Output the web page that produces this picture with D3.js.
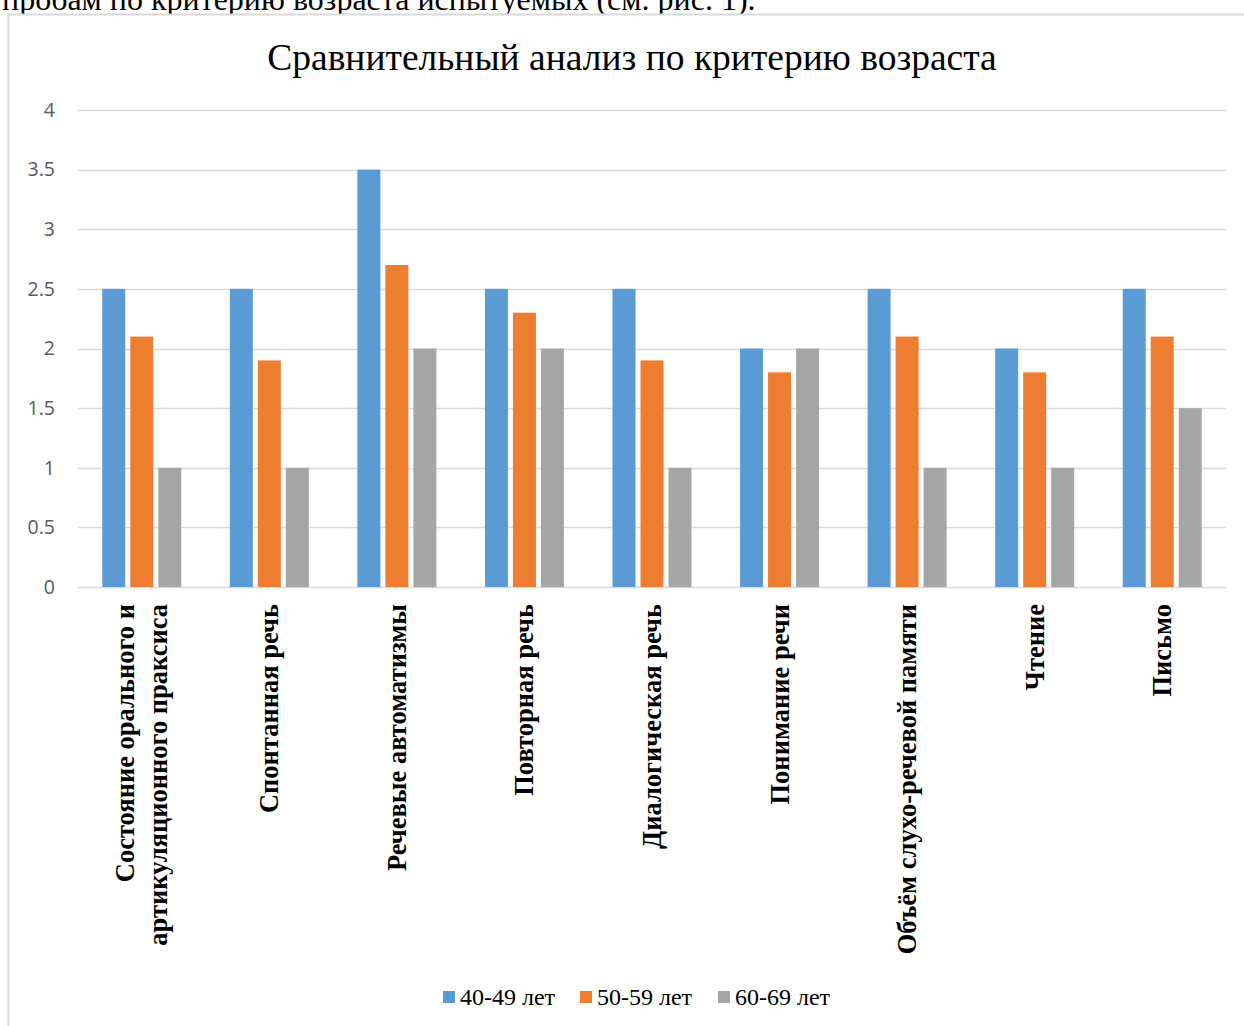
<!DOCTYPE html>
<html>
<head>
<meta charset="utf-8">
<script src="https://d3js.org/d3.v7.min.js"></script>
<style>
  html, body { margin: 0; padding: 0; background: #fff; overflow: hidden; }
</style>
</head>
<body>
<div id="chart"></div>
<script>
// Сравнительный анализ по критерию возраста
const categories = [
    ['Состояние орального и', 'артикуляционного праксиса'],
    ['Спонтанная речь'],
    ['Речевые автоматизмы'],
    ['Повторная речь'],
    ['Диалогическая речь'],
    ['Понимание речи'],
    ['Объём слухо-речевой памяти'],
    ['Чтение'],
    ['Письмо']
];
const seriesNames = ['40-49 лет', '50-59 лет', '60-69 лет'];
const age40 = [2.5, 2.5, 3.5, 2.5, 2.5, 2, 2.5, 2, 2.5];
const age50 = [2.1, 1.9, 2.7, 2.3, 1.9, 1.8, 2.1, 1.8, 2.1];
const age60 = [1, 1, 2, 2, 1, 2, 1, 1, 1.5];
const yTicks = [0, 0.5, 1, 1.5, 2, 2.5, 3, 3.5, 4];
const colors = ['#5B9BD5', '#ED7D31', '#A5A5A5'];

const width = 1244, height = 1026;
const margin = { left: 78, right: 18, top: 110, bottom: 439 };
const serif = '"Liberation Serif", "Times New Roman", serif';

const svg = d3.select('#chart').append('svg')
    .attr('width', width)
    .attr('height', height)
    .style('display', 'block');

// Text of the document above the chart (cut off by the page)
svg.append('text')
    .attr('x', 2)
    .attr('y', 10)
    .style('font-family', serif)
    .style('font-size', '32px')
    .style('fill', '#000')
    .text('пробам по критерию возраста испытуемых (см. рис. 1).');

// Chart frame
svg.append('rect')
    .attr('x', 8.5)
    .attr('y', 14.5)
    .attr('width', 1300)
    .attr('height', 1100)
    .attr('fill', '#fff')
    .attr('stroke', '#D9D9D9')
    .attr('stroke-width', 2);

svg.append('text')
    .attr('x', 632)
    .attr('y', 70)
    .attr('text-anchor', 'middle')
    .style('font-family', serif)
    .style('font-size', '37.5px')
    .style('fill', '#000')
    .text('Сравнительный анализ по критерию возраста');

const x0 = d3.scaleBand()
    .domain(d3.range(categories.length))
    .range([margin.left, width - margin.right])
    .paddingInner(0)
    .paddingOuter(0);

const y = d3.scaleLinear()
    .domain([0, 4])
    .range([height - margin.bottom, margin.top]);

const barStep = 28, barW = 23;

// Grid
svg.append('g')
    .selectAll('line')
    .data(yTicks)
    .join('line')
    .attr('x1', margin.left)
    .attr('x2', width - margin.right)
    .attr('y1', d => Math.round(y(d)) + 0.5)
    .attr('y2', d => Math.round(y(d)) + 0.5)
    .attr('stroke', '#D9D9D9')
    .attr('stroke-width', 1.5);

// Y axis labels
const yAxis = svg.append('g')
    .attr('transform', `translate(${margin.left - 23},0)`)
    .call(d3.axisLeft(y).tickValues(yTicks).tickSize(0).tickPadding(0).tickFormat(d => String(d)));
yAxis.select('.domain').remove();
yAxis.selectAll('text')
    .style('font-family', '"Open Sans", "Liberation Sans", sans-serif')
    .style('font-size', '19.5px')
    .style('fill', '#595959');

// Bars
const series = [age40, age50, age60];
series.forEach((vals, s) => {
    svg.append('g')
        .selectAll('rect')
        .data(vals)
        .join('rect')
        .attr('x', (d, i) => x0(i) + x0.bandwidth() / 2 + (s - 1) * barStep - barW / 2)
        .attr('y', d => y(d))
        .attr('width', barW)
        .attr('height', d => y(0) - y(d))
        .attr('fill', colors[s]);
});

// Category labels, rotated
const catG = svg.append('g');
categories.forEach((lines, i) => {
    const cx = x0(i) + x0.bandwidth() / 2;
    const lh = 33;
    lines.forEach((ln, j) => {
        const off = (j - (lines.length - 1) / 2) * lh;
        catG.append('text')
            .attr('transform', `translate(${cx + off + 9},604) rotate(-90)`)
            .attr('text-anchor', 'end')
            .style('font-family', serif)
            .style('font-weight', 'bold')
            .style('font-size', '26.5px')
            .style('fill', '#000')
            .text(ln);
    });
});

// Legend
const legendX = [443, 580, 718];
const legend = svg.append('g');
seriesNames.forEach((name, i) => {
    legend.append('rect')
        .attr('x', legendX[i])
        .attr('y', 991)
        .attr('width', 12)
        .attr('height', 12)
        .attr('fill', colors[i]);
    legend.append('text')
        .attr('x', legendX[i] + 17)
        .attr('y', 1005)
        .style('font-family', serif)
        .style('font-size', '24px')
        .style('fill', '#000')
        .text(name);
});
</script>
</body>
</html>
